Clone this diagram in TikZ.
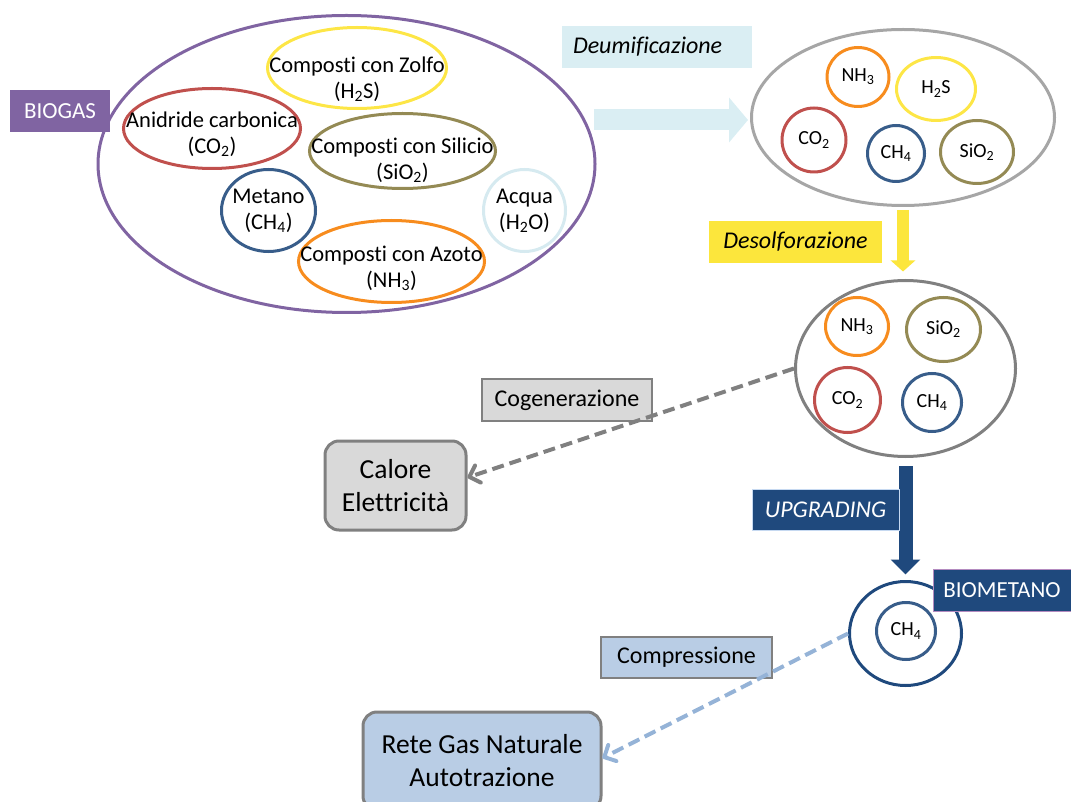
\documentclass[tikz,border=0pt]{standalone}
\usepackage{fontspec}
\setmainfont{Carlito}[Ligatures=NoCommon]
\usetikzlibrary{shapes.geometric,arrows.meta}

\definecolor{biogasPurple}{RGB}{128,100,162}
\definecolor{co2Red}{RGB}{192,80,77}
\definecolor{sioOlive}{RGB}{148,138,84}
\definecolor{ch4Blue}{RGB}{56,93,138}
\definecolor{nh3Orange}{RGB}{247,140,30}
\definecolor{h2sYellow}{RGB}{253,230,70}
\definecolor{waterBlue}{RGB}{214,234,240}
\definecolor{deumFill}{RGB}{218,238,243}
\definecolor{desolFill}{RGB}{252,230,60}
\definecolor{upgBlue}{RGB}{31,73,125}
\definecolor{ringGrayA}{RGB}{166,166,166}
\definecolor{ringGrayB}{RGB}{128,128,128}
\definecolor{boxGray}{RGB}{217,217,217}
\definecolor{boxBlue}{RGB}{185,205,229}
\definecolor{lineBlue}{RGB}{149,179,215}

\newcommand{\lblfont}{\fontsize{22.5}{26}\selectfont}
\newcommand{\molfont}{\fontsize{20}{24}\selectfont}
\newcommand{\stepfont}{\fontsize{24}{28}\selectfont}
\newcommand{\outfont}{\fontsize{27.5}{33}\selectfont}

\begin{document}
\begin{tikzpicture}[x=1pt,y=1pt,yscale=-1,
  ring/.style={ellipse, draw, line width=3pt, inner sep=0pt},
  lbl/.style={align=center, font=\lblfont, inner sep=0pt},
  mol/.style={ring, font=\molfont},
  stepbox/.style={inner sep=0pt, font=\stepfont, minimum height=42pt},
  tagbox/.style={inner sep=0pt, font=\fontsize{23}{27}\selectfont, text=white, minimum height=42pt},
  outbox/.style={draw=ringGrayB, line width=3pt, rounded corners=14pt, align=center, font=\outfont},
  bigarrow/.style={line width=#1},
  dasharrow/.style={line width=4pt, dash pattern=on 12pt off 6pt, -{Straight Barb[length=9pt,width=18pt,round]}}
]
\useasboundingbox (0,0) rectangle (1071,802);
\clip (0,0) rectangle (1071,802);

%Shape: Ellipse [biogas]
\node[ring, draw=biogasPurple, minimum width=497pt, minimum height=297pt] (biogas) at (346.5,164) {};
\node[ring, draw=h2sYellow, minimum width=179pt, minimum height=81pt] (zolfo) at (357,68) {};
\node[ring, draw=co2Red, minimum width=177pt, minimum height=80pt] (anidride) at (212,128.5) {};
\node[ring, draw=sioOlive, minimum width=186pt, minimum height=75pt] (silicio) at (402.5,151) {};
\node[ring, draw=ch4Blue, minimum width=94pt, minimum height=82pt] (metano) at (268.5,210.5) {};
\node[ring, draw=nh3Orange, minimum width=186pt, minimum height=82pt] (azoto) at (391.5,261.5) {};
\node[ring, draw=waterBlue, minimum width=82pt, minimum height=82pt] (acqua) at (524.5,210.5) {};
% Text Node
\node[lbl] at ([yshift=11pt]zolfo.center) {Composti con Zolfo\\(H\textsubscript{2}S)};
\node[lbl] at ([yshift=6pt]anidride.center) {Anidride carbonica\\(CO\textsubscript{2})};
\node[lbl] at ([yshift=9pt]silicio.center) {Composti con Silicio\\(SiO\textsubscript{2})};
\node[lbl] at (metano.center) {Metano\\(CH\textsubscript{4})};
\node[lbl] at ([yshift=7pt]azoto.center) {Composti con Azoto\\(NH\textsubscript{3})};
\node[lbl] at (acqua.center) {Acqua\\(H\textsubscript{2}O)};
\node[tagbox, fill=biogasPurple, minimum width=100pt] (biogasTag) at (60,111) {BIOGAS};

%Shape: Ellipse [after deumificazione]
\node[ring, draw=ringGrayA, minimum width=303pt, minimum height=176pt] (gasA) at (903,117.5) {};
\node[mol, draw=nh3Orange, minimum width=62pt, minimum height=59pt] (nhA) at (858,77) {NH\textsubscript{3}};
\node[mol, draw=h2sYellow, minimum width=79pt, minimum height=63pt] (hsA) at (936,89) {H\textsubscript{2}S};
\node[mol, draw=co2Red, minimum width=64pt, minimum height=64pt] (coA) at (814,140) {CO\textsubscript{2}};
\node[mol, draw=ch4Blue, minimum width=57pt, minimum height=56pt] (chA) at (896,153.5) {CH\textsubscript{4}};
\node[mol, draw=sioOlive, minimum width=73pt, minimum height=63pt] (siA) at (977,152) {SiO\textsubscript{2}};

%Shape: Ellipse [after desolforazione]
\node[ring, draw=ringGrayB, minimum width=220pt, minimum height=176pt] (gasB) at (905.5,368.5) {};
\node[mol, draw=nh3Orange, minimum width=63pt, minimum height=58pt] (nhB) at (857,326.5) {NH\textsubscript{3}};
\node[mol, draw=sioOlive, minimum width=74pt, minimum height=64pt] (siB) at (943.5,329.5) {SiO\textsubscript{2}};
\node[mol, draw=co2Red, minimum width=66pt, minimum height=65pt] (coB) at (847.5,400) {CO\textsubscript{2}};
\node[mol, draw=ch4Blue, minimum width=59pt, minimum height=58pt] (chB) at (932,402.5) {CH\textsubscript{4}};

%Shape: Circle [biometano]
\node[ring, draw=upgBlue, minimum width=112pt, minimum height=104pt] (bioOuter) at (905.5,633.5) {};
\node[mol, draw=ch4Blue, minimum width=59pt, minimum height=57pt] (bioInner) at (906,631) {CH\textsubscript{4}};
\node[tagbox, fill=upgBlue, draw={rgb,255:red,180;green,139;blue,192}, line width=1pt, minimum width=138pt] (biometTag) at (1002,590) {BIOMETANO};

%Block Arrows
\coordinate (deumStart) at (594,120);
\draw[bigarrow=21pt, deumFill, -{Triangle[length=19pt,width=44pt]}, shorten >=2pt] (deumStart) -- (deumStart -| gasA.west);
\draw[bigarrow=12pt, desolFill, -{Triangle[length=11pt,width=24pt]}, shorten <=3pt, shorten >=7.5pt] (gasA.south) -- (gasA.south |- gasB.north);
\draw[bigarrow=14pt, upgBlue, -{Triangle[length=15pt,width=29pt]}, shorten <=8pt, shorten >=5.5pt] (gasB.south) -- (bioOuter.north);

% Step labels
\node[stepbox, fill=deumFill, minimum width=190pt, text width=168pt, inner xsep=11pt, align=left] (deumBox) at (657,47) {\itshape Deumificazione};
\node[stepbox, fill=desolFill, minimum width=173pt] (desolBox) at (795.5,242) {\itshape Desolforazione};
\node[stepbox, fill=upgBlue, draw={rgb,255:red,198;green,217;blue,241}, line width=1pt, text=white, minimum width=147pt, minimum height=41pt] (upgBox) at (825.5,509.5) {\itshape UPGRADING};
\node[stepbox, fill=boxGray, draw=ringGrayB, line width=1.5pt, minimum width=170pt] (cogenBox) at (567,400) {Cogenerazione};
\node[stepbox, fill=boxBlue, draw=ringGrayB, line width=1.5pt, minimum width=171pt, minimum height=41pt] (comprBox) at (686.5,657.5) {Compressione};

% End boxes
\node[outbox, fill=boxGray, minimum width=141pt, minimum height=89pt] (calore) at (395.5,485.5) {Calore\\Elettricit\`a};
\node[outbox, fill=boxBlue, minimum width=238pt, minimum height=98pt] (rete) at (482,761) {Rete Gas Naturale\\Autotrazione};

%Dashed Lines
\draw[dasharrow, ringGrayB] (gasB.west) -- ([yshift=-8pt]calore.east);
\draw[dasharrow, lineBlue] (bioOuter.west) -- ([yshift=-3pt]rete.east);

\end{tikzpicture}
\end{document}
